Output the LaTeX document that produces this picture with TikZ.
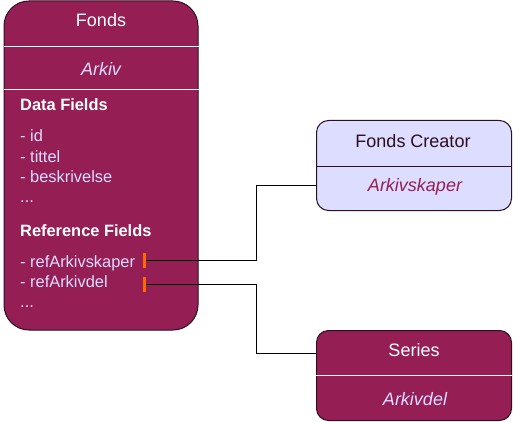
\documentclass[tikz,border=0pt]{standalone}
\usepackage{fontspec}
\setmainfont{Liberation Sans}
\usepackage{xcolor}
\usetikzlibrary{positioning, calc}
\definecolor{archmagenta}{HTML}{951E55}
\definecolor{archlilac}{HTML}{DDDDFF}
\definecolor{archdark}{HTML}{2E0F20}
\definecolor{archorange}{HTML}{FF6A00}

\begin{document}
\begin{tikzpicture}[
    x=1pt, y=-1pt,
    classbox/.style={rectangle, rounded corners=12pt, draw=archdark, line width=1pt, fill=#1, minimum width=195pt, minimum height=90pt, inner sep=0pt},
    title/.style={anchor=base, font=\fontsize{18}{20}\selectfont, text=#1},
    subtitle/.style={anchor=base, font=\fontsize{18}{20}\selectfont\itshape, text=#1},
    field/.style={anchor=base west, inner sep=0pt, font=\fontsize{16.4}{18}\selectfont, text=archlilac},
    fieldhead/.style={anchor=base west, inner sep=0pt, font=\fontsize{16.4}{18}\selectfont\bfseries, text=white},
    marker/.style={rectangle, fill=archorange, minimum width=3pt, minimum height=15pt, inner sep=0pt},
    link/.style={draw=black, line width=1pt},
]
\useasboundingbox (0,0) rectangle (513,422);

% boxes
\node[classbox=archmagenta, rounded corners=25pt, minimum width=194pt, minimum height=329pt] (fonds) at (101,165.5) {};
\node[classbox=archlilac] (creator) at (414,165.5) {};
\node[classbox=archmagenta] (series) at (414,375.5) {};

% separators
\draw[white, line width=1pt] (fonds.west |- 0,47) -- (fonds.east |- 0,47);
\draw[white, line width=1pt] (fonds.west |- 0,90) -- (fonds.east |- 0,90);
\draw[archdark, line width=1pt] (creator.west) ++(0,0.5) -- ($(creator.east)+(0,0.5)$);
\draw[white, line width=1pt] (series.west) -- (series.east);

% Fonds
\node[title=white] (fondsname) at (101,27) {Fonds};
\node[subtitle=archlilac] (fondsalias) at (101,75.5) {Arkiv};
\node[fieldhead] (datahead) at (20,111) {Data Fields};
\node[field] (fid) at (20,142) {- id};
\node[field] (ftittel) at (20,162) {- tittel};
\node[field] (fbeskr) at (20,182) {- beskrivelse};
\node[field] (fdots) at (20,202) {...};
\node[fieldhead] (refhead) at (20,236) {Reference Fields};
\node[field] (frefskaper) at (20,267) {- refArkivskaper};
\node[field] (frefdel) at (20,287) {- refArkivdel};
\node[field] (frefdots) at (20,307) {...};

% Fonds Creator and Series
\node[title=archdark] (creatorname) at (413,147.3) {Fonds Creator};
\node[subtitle=archmagenta] (creatoralias) at (415,191) {Arkivskaper};
\node[title=white] (seriesname) at (414,356.7) {Series};
\node[subtitle=archlilac] (seriesalias) at (415,405) {Arkivdel};

% references
\coordinate (bend) at (256,0);
\node[marker] (mk1) at (144.7,260) {};
\node[marker] (mk2) at (144.7,284) {};
\draw[link] (mk1.center) -- (mk1.center -| bend) |- (creator.west |- 0,185);
\draw[link] (mk2.center) -- (mk2.center -| bend) |- (series.west |- 0,353);
\node[marker] at (mk1) {};
\node[marker] at (mk2) {};

\end{tikzpicture}
\end{document}
